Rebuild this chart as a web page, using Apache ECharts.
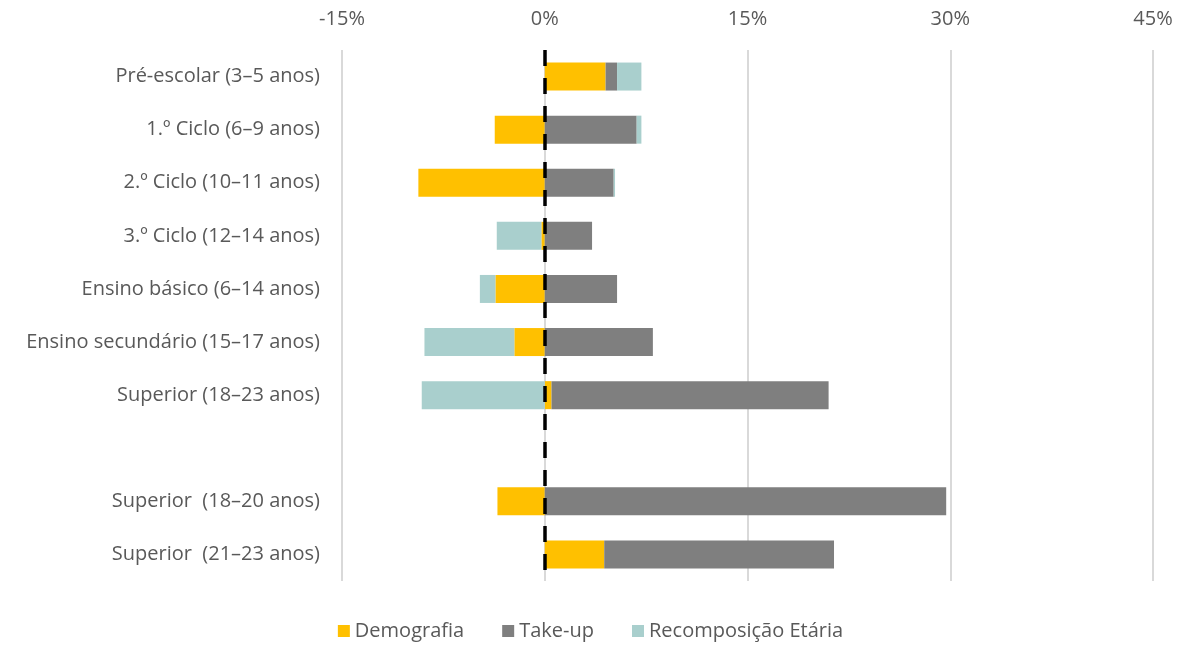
<!DOCTYPE html>
<html>
<head>
<meta charset="utf-8">
<script src="https://cdn.jsdelivr.net/npm/echarts@6/dist/echarts.min.js"></script>
<style>
  html, body { margin: 0; padding: 0; background: #fff; }
  #chart { width: 1181px; height: 646px; }
</style>
</head>
<body>
<div id="chart"></div>
<script>
const categories = [
  'Pré-escolar (3–5 anos)',
  '1.º Ciclo (6–9 anos)',
  '2.º Ciclo (10–11 anos)',
  '3.º Ciclo (12–14 anos)',
  'Ensino básico (6–14 anos)',
  'Ensino secundário (15–17 anos)',
  'Superior (18–23 anos)',
  '',
  'Superior  (18–20 anos)',
  'Superior  (21–23 anos)'
]
const demografia = [4.5, -3.7, -9.35, -0.25, -3.65, -2.25, 0.5, null, -3.5, 4.4]
const takeUp = [0.85, 6.8, 5.1, 3.5, 5.35, 8.0, 20.5, null, 29.7, 17.0]
const recomposicao = [1.8, 0.35, 0.1, -3.3, -1.15, -6.65, -9.1, null, 0, 0]
const xTicks = { min: -15, max: 45, step: 15 }

const font = '"Open Sans", Lato, sans-serif'
const textColor = '#595959'

const chart = echarts.init(document.getElementById('chart'))

const option = {
  animation: false,
  textStyle: { fontFamily: font },
  legend: {
    bottom: 0,
    left: 'center',
    icon: 'rect',
    itemWidth: 12,
    itemHeight: 12,
    itemGap: 38,
    textStyle: { color: textColor, fontSize: 20, fontFamily: font },
    data: ['Demografia', 'Take-up', 'Recomposição Etária']
  },
  grid: {
    left: 342,
    right: 28,
    top: 50,
    height: 531
  },
  xAxis: {
    type: 'value',
    position: 'top',
    min: xTicks.min,
    max: xTicks.max,
    interval: xTicks.step,
    axisLine: { show: false },
    axisTick: { show: false },
    axisLabel: {
      color: textColor,
      fontSize: 20,
      margin: 21,
      formatter: '{value}%'
    },
    splitLine: { lineStyle: { color: '#d9d9d9', width: 2 } }
  },
  yAxis: {
    type: 'category',
    inverse: true,
    data: categories,
    axisLine: { show: false },
    axisTick: { show: false },
    axisLabel: { color: textColor, fontSize: 20, margin: 22 }
  },
  series: [
    {
      name: 'Demografia',
      type: 'bar',
      stack: 'total',
      barWidth: 28,
      itemStyle: { color: '#ffc000' },
      data: demografia,
      markLine: {
        silent: true,
        symbol: 'none',
        label: { show: false },
        lineStyle: { color: '#000', width: 3.5, type: [16, 12] },
        data: [{ xAxis: 0 }]
      }
    },
    {
      name: 'Take-up',
      type: 'bar',
      stack: 'total',
      barWidth: 28,
      itemStyle: { color: '#7f7f7f' },
      data: takeUp
    },
    {
      name: 'Recomposição Etária',
      type: 'bar',
      stack: 'total',
      barWidth: 28,
      itemStyle: { color: '#a9cfcd' },
      data: recomposicao
    }
  ]
}

chart.setOption(option)
window.addEventListener('resize', () => {
  chart.resize()
})
</script>
</body>
</html>
